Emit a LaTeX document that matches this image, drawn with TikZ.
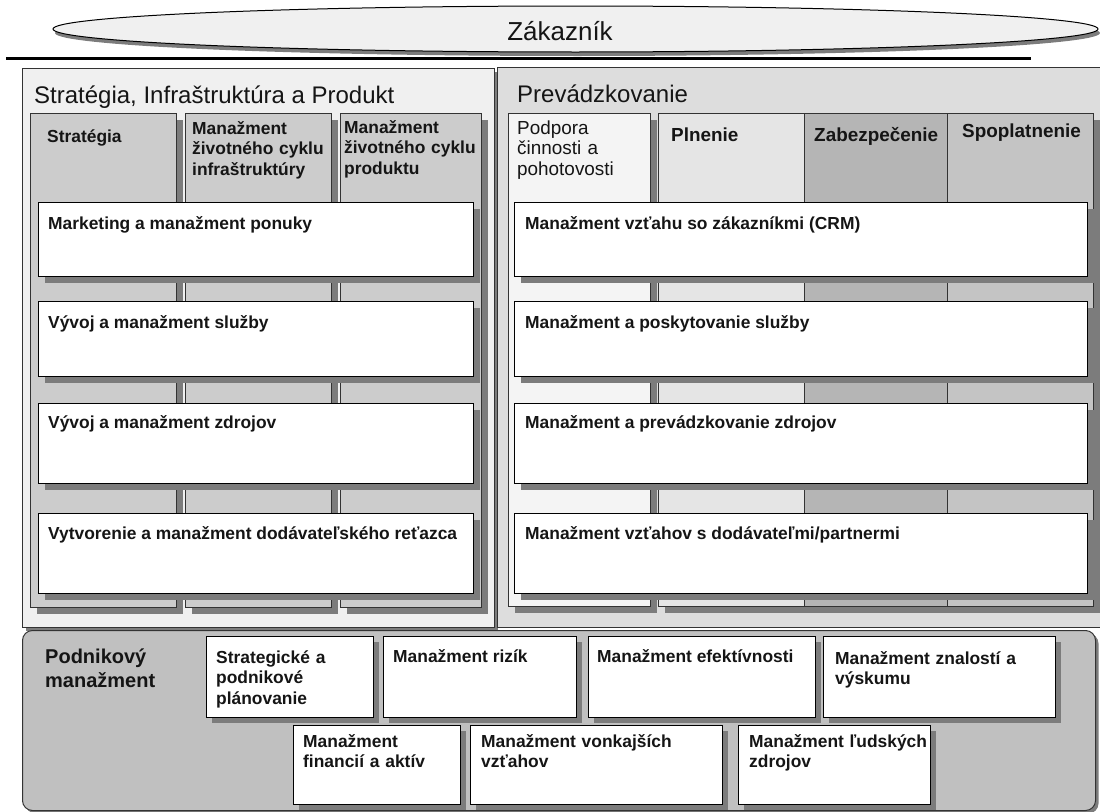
\documentclass[tikz,border=0pt]{standalone}
\usepackage{fontspec}
\setmainfont{Liberation Sans}
\usetikzlibrary{shadows,shapes.geometric}

\definecolor{panelL}{HTML}{F0F0F0}
\definecolor{panelR}{HTML}{DDDDDD}
\definecolor{colL}{HTML}{CCCCCC}
\definecolor{colPod}{HTML}{F4F4F4}
\definecolor{colPln}{HTML}{E5E5E5}
\definecolor{colZab}{HTML}{B5B5B5}
\definecolor{colSpo}{HTML}{C4C4C4}
\definecolor{panelB}{HTML}{C0C0C0}
\definecolor{shadowgray}{HTML}{7C7C7C}
\definecolor{edge}{HTML}{333333}
\definecolor{ink}{HTML}{151515}

% rectangle node from top-left (x1,y1) to bottom-right (x2,y2)
\newcommand\boxat[6]{%
  \node[#6, anchor=north west, inner sep=0pt,
        minimum width={(#4-#2)*1pt}, minimum height={(#5-#3)*1pt}] (#1) at (#2,#3) {};}

\tikzset{
  sh/.style={drop shadow={shadow xshift=#1, shadow yshift=-#1, fill=shadowgray, opacity=1}},
  panel/.style={draw=edge, line width=1pt},
  column/.style={draw=edge, line width=1pt, sh=6pt},
  whitebox/.style={draw=black, fill=white, line width=1.2pt, sh=6pt},
  smallbox/.style={draw=black, fill=white, line width=1.2pt, sh=5pt},
  lbl/.style={anchor=base west, inner sep=0pt, text=ink,
              font=\fontsize{17.4}{20.5}\selectfont\bfseries},
  hdr/.style={anchor=base west, inner sep=0pt, text=ink,
              font=\fontsize{18.9}{20.5}\selectfont\bfseries},
  hdrreg/.style={anchor=base west, inner sep=0pt, text=ink,
              font=\fontsize{18.9}{20.5}\selectfont},
  ml/.style={text width=#1, align=left},
  title/.style={anchor=base west, inner sep=0pt, text=ink,
              font=\fontsize{24}{28}\selectfont},
}

\begin{document}
\begin{tikzpicture}[x=1pt, y=-1pt]
\useasboundingbox (0,0) rectangle (1100,811);

% customer ellipse and the rule under it
\node[ellipse, draw=black, line width=1pt, fill=panelL,
      minimum width=1045pt, minimum height=46pt, inner sep=0pt,
      drop shadow={shadow xshift=2pt, shadow yshift=-4pt, fill=shadowgray, opacity=1}]
      (cust) at (575.5,29) {};
\node[anchor=base, inner sep=0pt, text=ink, font=\fontsize{26}{30}\selectfont]
      (custlbl) at (560,40) {Zákazník};
\coordinate (ruleL) at (6,58);
\coordinate (ruleR) at (1031,58);
\draw[line width=3pt] (ruleL) -- (ruleR);

% the two upper panels
\boxat{spi}{22}{68}{494}{627}{panel, fill=panelL, sh=3pt}
\boxat{prev}{497}{67}{1106}{627}{panel, fill=panelR}
\node[title] (spiT) at (34,103) {Stratégia, Infraštruktúra a Produkt};
\node[title] (prevT) at (517,102) {Prevádzkovanie};

% vertical columns, left panel
\boxat{cStr}{30}{113}{176}{607}{column, fill=colL}
\boxat{cInf}{185}{113}{331}{607}{column, fill=colL}
\boxat{cPro}{340}{113}{481}{607}{column, fill=colL}

% vertical columns, right panel
\boxat{cPod}{508}{113}{650}{606}{column, fill=colPod}
\boxat{cPln}{658}{113}{804}{606}{column, fill=colPln}
\boxat{cZab}{804}{113}{947}{606}{column, fill=colZab}
\boxat{cSpo}{947}{113}{1093}{606}{column, fill=colSpo}

% column headings
\node[lbl] (hStr) at (47,142) {Stratégia};
\node[lbl, ml=145pt] (hInf) at (192,134) {Manažment\\životného cyklu\\infraštruktúry};
\node[lbl, ml=140pt] (hPro) at (344,133) {Manažment\\životného cyklu\\produktu};
\node[hdrreg, ml=130pt] (hPod) at (517,134) {Podpora\\činnosti a\\pohotovosti};
\node[hdr] (hPln) at (671,141) {Plnenie};
\node[hdr] (hZab) at (814,141) {Zabezpečenie};
\node[hdr] (hSpo) at (962,137) {Spoplatnenie};

% horizontal process groupings, left panel
\boxat{l1}{38}{202}{473}{276}{whitebox}
\boxat{l2}{38}{301}{473}{376}{whitebox}
\boxat{l3}{38}{403}{473}{483}{whitebox}
\boxat{l4}{38}{513}{473}{593}{whitebox}
\node[lbl] (tl1) at (48,229) {Marketing a manažment ponuky};
\node[lbl] (tl2) at (48,328) {Vývoj a manažment služby};
\node[lbl] (tl3) at (48,428) {Vývoj a manažment zdrojov};
\node[lbl] (tl4) at (48,539) {Vytvorenie a manažment dodávateľského reťazca};

% horizontal process groupings, right panel
\boxat{r1}{514}{202}{1087}{276}{whitebox}
\boxat{r2}{514}{301}{1087}{376}{whitebox}
\boxat{r3}{514}{403}{1087}{483}{whitebox}
\boxat{r4}{514}{513}{1087}{593}{whitebox}
\node[lbl] (tr1) at (525,229) {Manažment vzťahu so zákazníkmi (CRM)};
\node[lbl] (tr2) at (525,328) {Manažment a poskytovanie služby};
\node[lbl] (tr3) at (525,428) {Manažment a prevádzkovanie zdrojov};
\node[lbl] (tr4) at (525,539) {Manažment vzťahov s dodávateľmi/partnermi};

% enterprise management panel
\node[panel, fill=panelB, rounded corners=10pt, sh=3pt, anchor=north west,
      inner sep=0pt, minimum width=1073pt, minimum height=180pt] (ent) at (22,630) {};
\node[anchor=base west, inner sep=0pt, text=ink, text width=150pt, align=left,
      font=\fontsize{20}{24}\selectfont\bfseries] (entT) at (45,663) {Podnikový\\manažment};

\boxat{bA}{206}{636}{373}{717}{smallbox}
\boxat{bB}{383}{636}{576}{717}{smallbox}
\boxat{bC}{588}{636}{815}{717}{smallbox}
\boxat{bD}{823}{636}{1055}{717}{smallbox}
\boxat{bE}{293}{725}{460}{804}{smallbox}
\boxat{bF}{470}{725}{722}{804}{smallbox}
\boxat{bG}{738}{725}{930}{804}{smallbox}

\node[lbl, ml=150pt] (tA) at (216,663) {Strategické a\\podnikové\\plánovanie};
\node[lbl] (tB) at (393,662) {Manažment rizík};
\node[lbl] (tC) at (597,662) {Manažment efektívnosti};
\node[lbl, ml=215pt] (tD) at (835,664) {Manažment znalostí a\\výskumu};
\node[lbl, ml=150pt] (tE) at (303,747) {Manažment\\financií a aktív};
\node[lbl, ml=240pt] (tF) at (481,747) {Manažment vonkajších\\vzťahov};
\node[lbl, ml=180pt] (tG) at (749,747) {Manažment ľudských\\zdrojov};
\end{tikzpicture}
\end{document}
